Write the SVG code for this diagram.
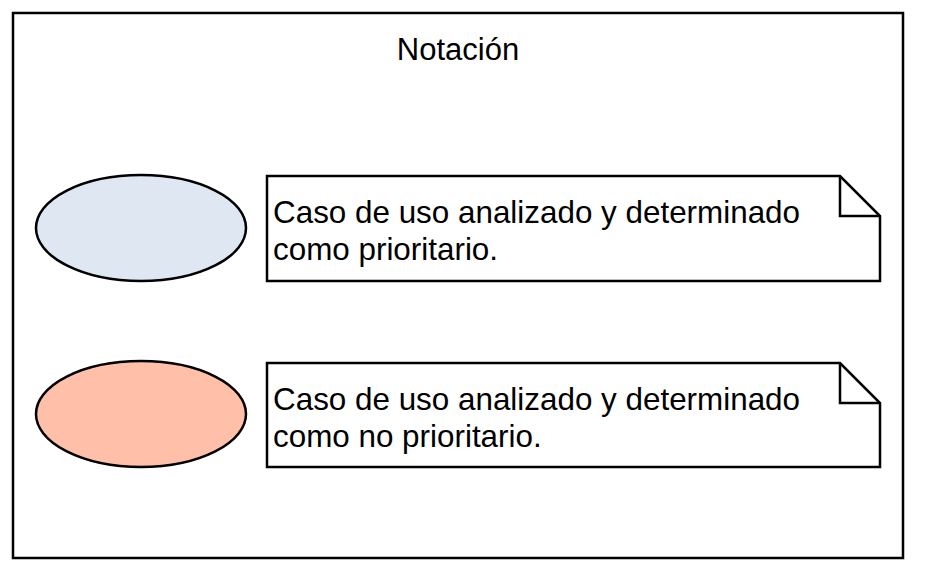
<svg xmlns="http://www.w3.org/2000/svg" width="929" height="584" viewBox="0 0 929 584">
<style>
.ln{fill:none;stroke:#000;stroke-width:2.5}
.note{fill:#fff;stroke:#000;stroke-width:2.5;stroke-linejoin:miter}
.t{font-family:"Liberation Sans",Arial,sans-serif;font-size:31.4px;fill:#000}
.h{font-family:"Liberation Sans",Arial,sans-serif;font-size:31px;fill:#000}
</style>
<rect x="0" y="0" width="929" height="584" fill="#fff"/>
<g id="frame">
<rect x="13" y="13" width="890" height="545" fill="#fff" stroke="#000" stroke-width="2.5"/>
<text class="h" x="458" y="60" text-anchor="middle">Notación</text>
</g>
<g id="usecase-prioritario">
<ellipse cx="141" cy="228" rx="105" ry="53" fill="#dfe7f2" stroke="#000" stroke-width="2.5"/>
</g>
<g id="note-prioritario">
<path class="note" d="M267,176 H840 L880,216 V281 H267 Z"/>
<path class="ln" d="M840,176 V216 H880"/>
<text class="t" x="273" y="223">Caso de uso analizado y determinado</text>
<text class="t" x="273" y="260">como prioritario.</text>
</g>
<g id="usecase-no-prioritario">
<ellipse cx="141" cy="414" rx="105" ry="53" fill="#ffbfa9" stroke="#000" stroke-width="2.5"/>
</g>
<g id="note-no-prioritario">
<path class="note" d="M267,363 H840 L880,403 V467 H267 Z"/>
<path class="ln" d="M840,363 V403 H880"/>
<text class="t" x="273" y="410">Caso de uso analizado y determinado</text>
<text class="t" x="273" y="447">como no prioritario.</text>
</g>
<g id="connectors"></g>
</svg>
